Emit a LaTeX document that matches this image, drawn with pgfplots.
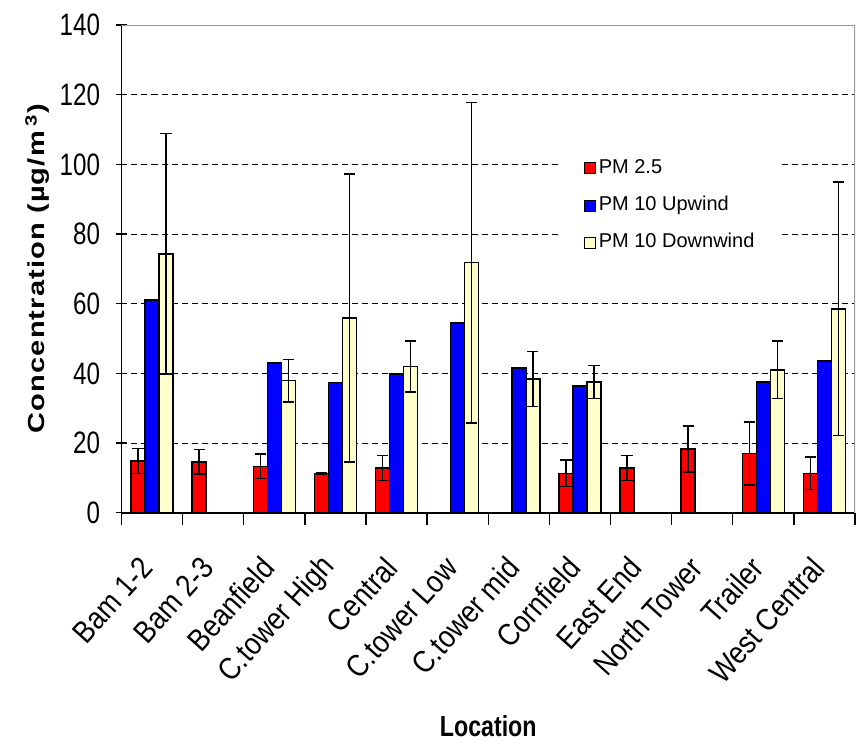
\documentclass[border=0pt]{standalone}
\usepackage{fontspec}
\setmainfont{Liberation Sans}
\usepackage{pgfplots}
\usepackage{pgfplotstable}
\pgfplotsset{compat=1.18}

\definecolor{pmred}{RGB}{255,0,0}
\definecolor{pmblue}{RGB}{0,0,255}
\definecolor{pmcream}{RGB}{255,255,204}
\definecolor{plotframe}{RGB}{155,155,155}

% x = location index, y = mean concentration, e = error
\pgfplotstableread{
x y e
0 14.8 3.6
1 14.6 3.5
2 13.3 3.5
3 11.2 0.3
4 12.9 3.6
7 11.3 3.8
8 12.8 3.6
9 18.3 6.6
10 17.0 9.0
11 11.3 4.7
}\pmfine

\pgfplotstableread{
x y
0 61.1
2 42.9
3 37.4
4 39.8
5 54.4
6 41.5
7 36.4
10 37.5
11 43.6
}\pmup

\pgfplotstableread{
x y e
0 74.3 34.5
2 37.9 6.1
3 55.9 41.3
4 42.0 7.3
5 71.8 46.0
6 38.4 7.9
7 37.5 4.7
10 41.0 8.3
11 58.5 36.4
}\pmdown

\newcommand\labfont{\fontsize{14.5}{16}\selectfont}

\begin{document}
\begin{tikzpicture}
\useasboundingbox (0,0) rectangle (428.5pt,375.5pt);
\begin{axis}[
  at={(60.75pt,119.15pt)}, anchor=south west,
  scale only axis, width=366.75pt, height=243.85pt,
  ybar=0pt, bar width=7pt,
  xmin=-0.5, xmax=11.5, ymin=0, ymax=140,
  enlargelimits=false,
  axis lines=left,
  axis line style={-, black, line width=0.8pt},
  xtick={-0.5,0.5,...,11.5},
  xticklabels={Bam 1-2, Bam 2-3, Beanfield, C.tower High, Central, C.tower Low, C.tower mid, Cornfield, East End, North Tower, Trailer, West Central, {}},
  ytick={0,20,...,140},
  tick align=center, major tick length=6pt,
  tick style={black, line width=0.7pt},
  xtick style={yshift=-3pt},
  ymajorgrids,
  major grid style={black, line width=0.5pt, dash pattern=on 3pt off 2pt},
  /pgf/number format/assume math mode=true,
  tick label style={font=\labfont},
  yticklabel style={font=\fontsize{15.5}{17}\selectfont, anchor=east, xshift=-5pt, xscale=0.78},
  xticklabel style={font=\fontsize{15.5}{17}\selectfont, xshift=14.5pt, yshift=-19.5pt, rotate=48, xscale=0.87, anchor=east},
  ylabel={\addfontfeature{LetterSpace=4}Concentration (µg/m\,\textsuperscript{3})},
  xlabel={Location},
  every axis y label/.style={at={(rel axis cs:0,0.5)}, xshift=-42pt, rotate=90, yscale=0.8, anchor=center, font=\labfont\bfseries},
  every axis x label/.style={at={(rel axis cs:0.5,0)}, yshift=-106.6pt, xscale=0.8, anchor=center, font=\labfont\bfseries},
  legend style={at={(rel axis cs:0.594,0.75)}, anchor=north west, draw=none, fill=white,
    inner xsep=13pt, inner ysep=6pt, font=\fontsize{10}{11}\selectfont,
    row sep=9.65pt, column sep=1.5pt,
    nodes={inner sep=0pt, text height=7pt, text depth=2pt}},
  legend cell align=left,
  legend image code/.code={\draw[#1, draw=black, line width=0.6pt] (0pt,-2.75pt) rectangle (5.5pt,2.75pt);},
  error bars/error bar style={black, line width=0.7pt},
  error bars/error mark options={black, rotate=90, mark size=2.8pt, line width=0.7pt},
]
\addplot[fill=pmred, draw=black, line width=0.8pt,
  error bars/.cd, y dir=both, y explicit]
  table[x=x, y=y, y error=e] {\pmfine};
\addplot[fill=pmblue, draw=black, line width=0.8pt]
  table[x=x, y=y] {\pmup};
\addplot[fill=pmcream, draw=black, line width=0.8pt,
  error bars/.cd, y dir=both, y explicit]
  table[x=x, y=y, y error=e] {\pmdown};
\legend{PM 2.5, PM 10 Upwind, PM 10 Downwind}
\draw[plotframe, line width=0.9pt] (rel axis cs:0,1) -- (rel axis cs:1,1) -- (rel axis cs:1,0);
\end{axis}
\end{tikzpicture}
\end{document}
